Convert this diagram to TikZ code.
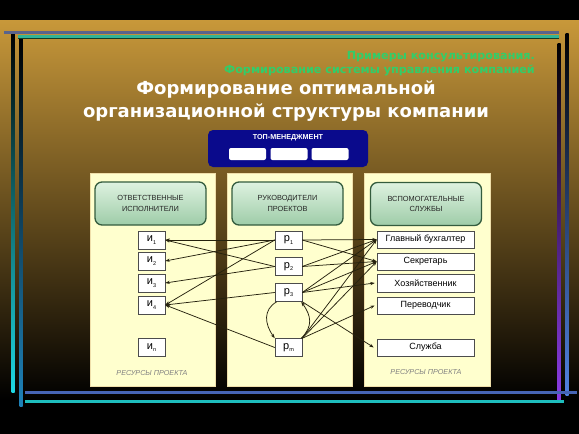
\documentclass[tikz,border=0pt]{standalone}
\usepackage{fontspec}
\setmainfont{Liberation Sans}
\newfontfamily\titlefont{DejaVu Sans}
\usetikzlibrary{arrows.meta}
\definecolor{gold}{RGB}{200,152,58}
\definecolor{goldmid}{RGB}{132,95,36}
\definecolor{panel}{RGB}{255,255,206}
\definecolor{navy}{RGB}{10,10,140}
\definecolor{hdrborder}{RGB}{52,92,62}
\definecolor{hdrtop}{RGB}{222,242,224}
\definecolor{hdrbot}{RGB}{158,204,168}
\definecolor{lineclr}{RGB}{38,34,14}
\definecolor{greentxt}{RGB}{50,205,105}
\definecolor{topblue}{RGB}{90,100,140}
\definecolor{topteal}{RGB}{50,180,150}
\definecolor{topdk}{RGB}{16,60,40}
\definecolor{botblue}{RGB}{70,100,180}
\definecolor{botteal}{RGB}{30,190,190}
\definecolor{cyanA}{RGB}{30,215,225}
\definecolor{steelA}{RGB}{30,130,185}
\definecolor{purpleA}{RGB}{140,60,230}
\definecolor{blueA}{RGB}{80,130,225}
\newcommand\sbs[1]{\raisebox{-0.45ex}{\fontsize{5.5}{6}\selectfont#1}}
\begin{document}
\begin{tikzpicture}[x=1pt,y=-1pt,
  ibox/.style={draw=gray!60!black, fill=white, line width=0.5pt, minimum width=27pt, minimum height=18pt, inner sep=0pt, font=\fontsize{11}{11}\selectfont},
  rbox/.style={draw=gray!60!black, fill=white, line width=0.5pt, minimum width=97pt, minimum height=17.5pt, inner sep=0pt, font=\fontsize{9}{9}\selectfont},
  hdr/.style={draw=hdrborder, line width=1.3pt, rounded corners=7pt, top color=hdrtop, bottom color=hdrbot, minimum width=111pt, minimum height=43pt, align=center, font=\fontsize{7.4}{10.5}\selectfont, text=black!85},
  panelbox/.style={fill=panel, draw=panel!75!brown, line width=0.6pt},
  arr/.style={-{Stealth[length=4.5pt,width=3.2pt]}, line width=0.75pt, draw=lineclr},
  res/.style={font=\fontsize{7.2}{8}\selectfont\itshape, text=gray},
  wbtn/.style={fill=white, rounded corners=2pt, minimum width=37pt, minimum height=12pt, inner sep=0pt}
]
\useasboundingbox (0,0) rectangle (579,434);
% background
\fill[black] (0,0) rectangle (579,434);
\shade[top color=gold, middle color=goldmid, bottom color=black] (0,20) rectangle (579,400);
% frame lines
\shade[top color=black, bottom color=cyanA] (11.5,32) rectangle (14.5,392);
\shade[top color=black, bottom color=steelA] (19.5,36) rectangle (22.5,406);
\shade[top color=black, bottom color=purpleA] (557.5,43) rectangle (560.5,402);
\shade[top color=black, bottom color=blueA] (565.5,33) rectangle (568.5,395);
\fill[topblue] (4,31) rectangle (559,33.5);
\fill[topteal] (18,35) rectangle (559,37.5);
\fill[topdk] (18,37.5) rectangle (559,39);
\fill[botblue] (25,390.5) rectangle (577,393.5);
\fill[botteal] (25,399.5) rectangle (564,402.5);
% titles
\node[anchor=east, text=greentxt, font=\titlefont\bfseries\fontsize{11.2}{12}\selectfont, inner sep=0pt] (g1) at (535,57) {Примеры консультирования.};
\node[anchor=east, text=greentxt, font=\titlefont\bfseries\fontsize{11.2}{12}\selectfont, inner sep=0pt] (g2) at (535,70) {Формирование системы управления компанией};
\node[text=white, font=\titlefont\bfseries\fontsize{18}{20}\selectfont, inner sep=0pt] (t1) at (286,89) {Формирование оптимальной};
\node[text=white, font=\titlefont\bfseries\fontsize{18}{20}\selectfont, inner sep=0pt] (t2) at (286,113) {организационной структуры компании};
% panels
\path[panelbox] (90,173) rectangle (215,386);
\path[panelbox] (227,173) rectangle (352,386);
\path[panelbox] (364,173) rectangle (490,386);
% top management
\node[fill=navy, rounded corners=5pt, minimum width=160pt, minimum height=37pt, inner sep=0pt] (tm) at (288,148.5) {};
\node[text=white, font=\bfseries\fontsize{7.2}{8}\selectfont, inner sep=0pt] (tml) at (288,138) {ТОП-МЕНЕДЖМЕНТ};
\node[wbtn] (w1) at (247.5,154) {};
\node[wbtn] (w2) at (289,154) {};
\node[wbtn] (w3) at (330,154) {};
% headers
\node[hdr] (h1) at (150.5,203.5) {ОТВЕТСТВЕННЫЕ\\ИСПОЛНИТЕЛИ};
\node[hdr] (h2) at (287.5,203.5) {РУКОВОДИТЕЛИ\\ПРОЕКТОВ};
\node[hdr] (h3) at (426,204) {ВСПОМОГАТЕЛЬНЫЕ\\СЛУЖБЫ};
% executors
\node[ibox] (i1) at (151.5,240) {и\sbs{1}};
\node[ibox] (i2) at (151.5,261) {и\sbs{2}};
\node[ibox] (i3) at (151.5,283) {и\sbs{3}};
\node[ibox] (i4) at (151.5,305) {и\sbs{4}};
\node[ibox] (in) at (151.5,347.5) {и\sbs{n}};
% managers
\node[ibox] (p1) at (288.5,240) {р\sbs{1}};
\node[ibox] (p2) at (288.5,266.5) {р\sbs{2}};
\node[ibox] (p3) at (288.5,292.5) {р\sbs{3}};
\node[ibox] (pm) at (288.5,347.5) {р\sbs{m}};
% services
\node[rbox] (gb) at (425.5,239.5) {Главный бухгалтер};
\node[rbox] (sec) at (425.5,261.5) {Секретарь};
\node[rbox] (hoz) at (425.5,283) {Хозяйственник};
\node[rbox] (per) at (425.5,305.5) {Переводчик};
\node[rbox] (sl) at (425.5,347.5) {Служба};
% resources labels
\node[res] (r1) at (152,373) {РЕСУРСЫ ПРОЕКТА};
\node[res] (r3) at (426,372) {РЕСУРСЫ ПРОЕКТА};
% left connectors
\draw[arr] (p1.west) -- (i1.east);
\draw[arr] (p2.west) -- (i1.east);
\draw[arr] (p1.west) -- (i2.east);
\draw[arr] (p2.west) -- (i3.east);
\draw[arr] (p1.west) -- (i4.east);
\draw[arr] (p3.west) -- (i4.east);
\draw[arr] (pm.west) -- (i4.east);
% right connectors
\draw[arr] (p1.east) -- (gb.west);
\draw[arr] (p1.east) -- (sec.west);
\draw[arr] (p2.east) -- (gb.west);
\draw[arr] (p2.east) -- (sec.west);
\draw[arr] (p3.east) -- (gb.west);
\draw[arr] (p3.east) -- (sec.west);
\draw[arr] (p3.east) -- ([xshift=-2pt]hoz.west);
\draw[arr] (p3.south east) -- ([xshift=-3pt]sl.west);
\draw[arr] (pm.north east) -- (gb.west);
\draw[arr] (pm.north east) -- (sec.west);
\draw[arr] (pm.north east) -- ([xshift=-2pt]per.west);
% curved connectors
\draw[arr] ([xshift=2pt]p3.south west) .. controls +(-14,8) and +(-10,-14) .. (pm.north west);
\draw[arr] ([xshift=-1pt]pm.north east) .. controls +(12,-12) and +(10,14) .. ([xshift=-1pt]p3.south east);
\end{tikzpicture}
\end{document}
